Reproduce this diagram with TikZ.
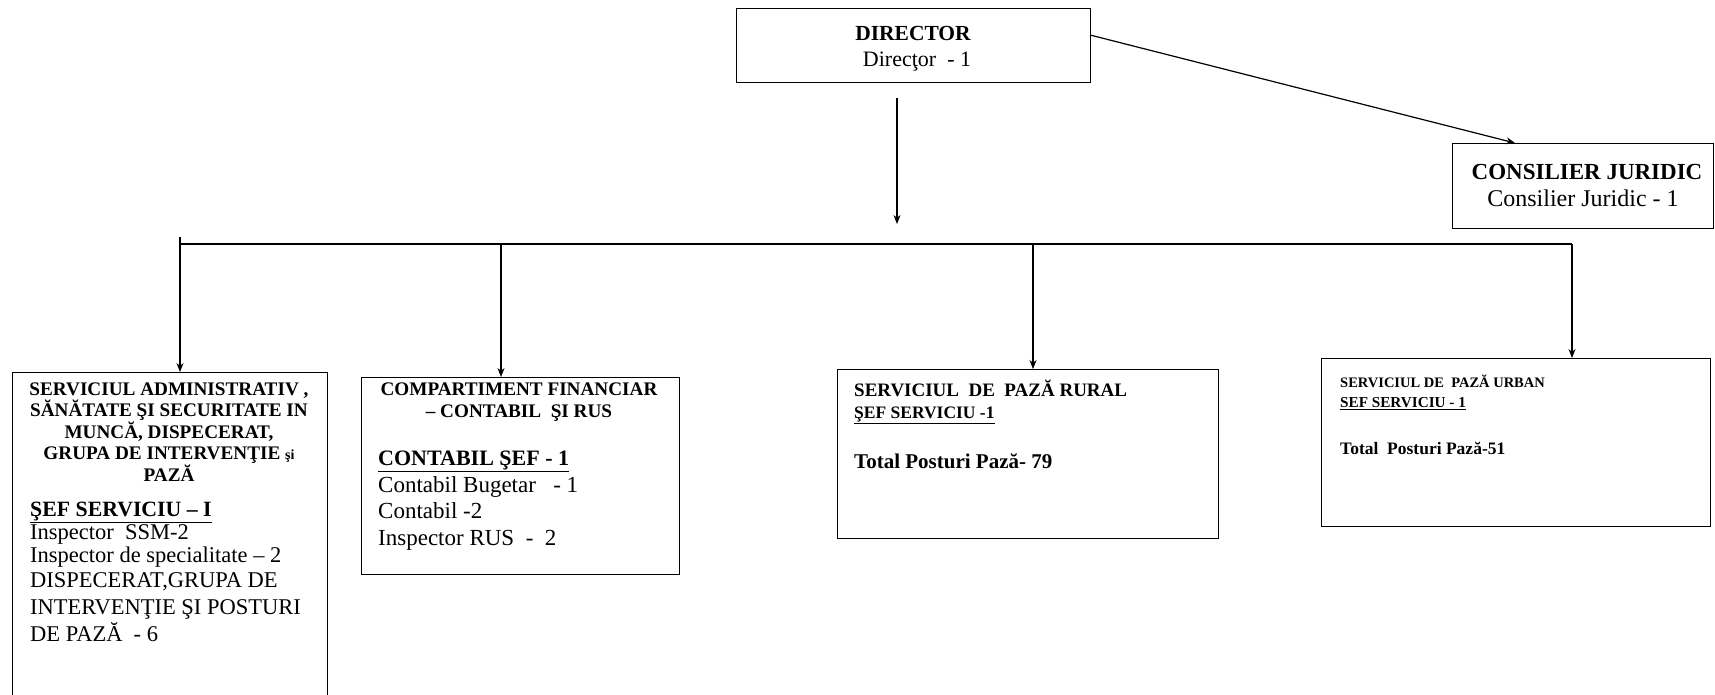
\documentclass[tikz,border=0pt]{standalone}
\usepackage{fontspec}
\setmainfont{Liberation Serif}
\usetikzlibrary{arrows.meta,calc}
\newcommand\setfs[1]{\fontsize{#1}{#1}\selectfont}
\begin{document}
\begin{tikzpicture}[x=1pt,y=-1pt,
  box/.style={draw,line width=1.4pt,inner sep=0,anchor=north west},
  conn/.style={line width=1.2pt},
  arr/.style={line width=1.2pt,-{Stealth[length=9pt,width=7pt]}},
  lt/.style={inner sep=0,anchor=mid west},
  ct/.style={inner sep=0,anchor=mid},
  hb/.style={font=\bfseries\setfs{19.2}},
  bd/.style={font=\setfs{22.5}}]
\useasboundingbox (0,0) rectangle (1715,694);
\clip (0,0) rectangle (1715,694);
% boxes
\node[box,minimum width=354pt,minimum height=74pt] (dir) at (736,8) {};
\node[box,minimum width=261pt,minimum height=85pt] (cons) at (1452,143) {};
\node[box,minimum width=315pt,minimum height=340pt] (b1) at (12,372) {};
\node[box,minimum width=318pt,minimum height=197pt] (b2) at (361,377) {};
\node[box,minimum width=381pt,minimum height=169pt] (b3) at (837,369) {};
\node[box,minimum width=389pt,minimum height=168pt] (b4) at (1321,358) {};
% connectors
\coordinate (dtop) at (897,98);
\coordinate (dend) at (897,224);
\draw[arr] (dtop) -- (dend);
\coordinate (dstart) at (1090,35);
\draw[arr] (dstart) -- ($(cons.north west)+(63,0)$);
\coordinate (j1) at (180,244);
\coordinate (j2) at (501,244);
\coordinate (j3) at (1033,244);
\coordinate (j4) at (1572,244);
\coordinate (j0) at (180,237);
\draw[conn] (j1) -- (j4);
\draw[arr] (j0) -- (j1 |- b1.north);
\draw[arr] (j2) -- (j2 |- b2.north);
\draw[arr] (j3) -- (j3 |- b3.north);
\draw[arr] (j4) -- (j4 |- b4.north);
% director
\node[ct,font=\bfseries\setfs{21.5}] (dirh) at (913,38) {DIRECTOR};
\node[ct,font=\setfs{22}] (dirt) at (917,64) {Direcţor\ \ - 1};
% consilier
\node[ct,font=\bfseries\setfs{23}] (consh) at (1587,177) {CONSILIER JURIDIC};
\node[ct,font=\setfs{24}] (const) at (1583,204) {Consilier Juridic - 1};
% box 1
\node[ct,hb] (a1) at (169,393) {SERVICIUL ADMINISTRATIV ,};
\node[ct,hb] (a2) at (169,414.5) {SĂNĂTATE ŞI SECURITATE IN};
\node[ct,hb] (a3) at (169,436) {MUNCĂ, DISPECERAT,};
\node[ct,hb] (a4) at (169,457.5) {GRUPA DE INTERVENŢIE {\setfs{14}şi}};
\node[ct,hb] (a5) at (169,479) {PAZĂ};
\node[lt,font=\bfseries\setfs{21.8}] (a6) at (30,514) {\underline{ŞEF SERVICIU – I}};
\node[lt,bd] (a7) at (30,537) {Inspector\ \ SSM-2};
\node[lt,bd] (a8) at (30,560) {Inspector de specialitate – 2};
\node[lt,bd] (a9) at (30,585) {DISPECERAT,GRUPA DE};
\node[lt,bd] (a10) at (30,612) {INTERVENŢIE ŞI POSTURI};
\node[lt,bd] (a11) at (30,639) {DE PAZĂ\ \ - 6};
% box 2
\node[ct,hb] (c1) at (519,393) {COMPARTIMENT FINANCIAR};
\node[ct,hb] (c2) at (519,415) {– CONTABIL\ \ ŞI RUS};
\node[lt,font=\bfseries\setfs{22}] (c3) at (378,463) {\underline{CONTABIL ŞEF - 1}};
\node[lt,font=\setfs{23}] (c4) at (378,490) {Contabil Bugetar\ \ \ - 1};
\node[lt,font=\setfs{23}] (c5) at (378,516) {Contabil -2};
\node[lt,font=\setfs{23}] (c6) at (378,543) {Inspector RUS\ \ -\ \ 2};
% box 3
\node[lt,font=\bfseries\setfs{19}] (r1) at (854,394) {SERVICIUL\ \ DE\ \ PAZĂ RURAL};
\node[lt,font=\bfseries\setfs{17.5}] (r2) at (854,416) {\underline{ŞEF SERVICIU -1}};
\node[lt,font=\bfseries\setfs{21}] (r3) at (854,466) {Total Posturi Pază- 79};
% box 4
\node[lt,font=\bfseries\setfs{14.5}] (u1) at (1340,385) {SERVICIUL DE\ \ PAZĂ URBAN};
\node[lt,font=\bfseries\setfs{15.2}] (u2) at (1340,405) {\underline{SEF SERVICIU - 1}};
\node[lt,font=\bfseries\setfs{17.5}] (u3) at (1340,452) {Total\ \ Posturi Pază-51};
\end{tikzpicture}
\end{document}
